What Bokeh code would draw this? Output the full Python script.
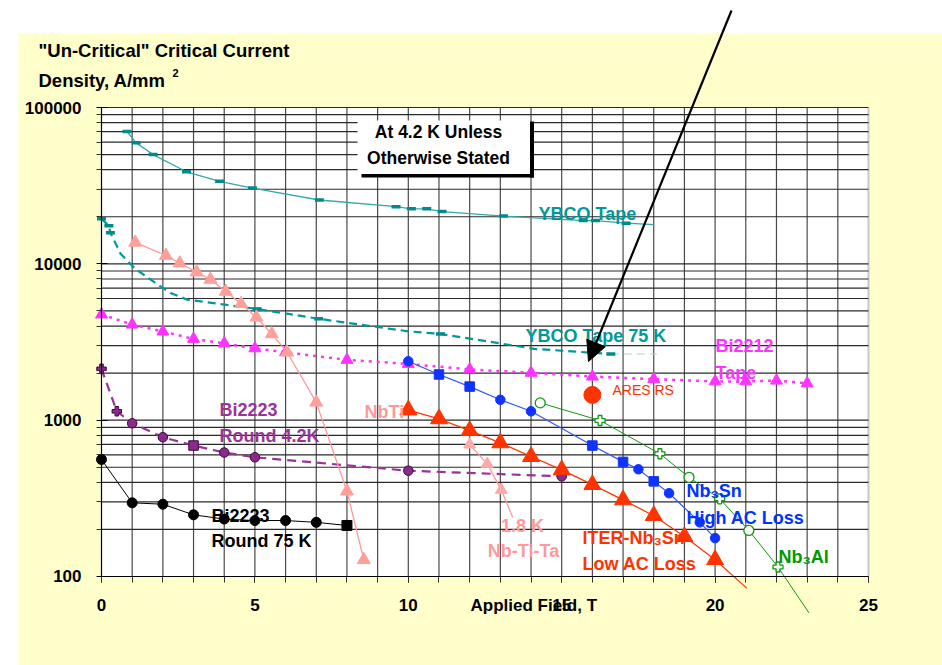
from bokeh.plotting import figure
from bokeh.models import Range1d, FixedTicker, PrintfTickFormatter, Arrow, NormalHead
from bokeh.core.properties import value
from bokeh.embed import file_html
from bokeh.resources import INLINE

# ---------------- data ----------------
x_major_ticks = [0, 5, 10, 15, 20, 25]
x_minor_ticks = list(range(26))
y_major_ticks = [100, 1000, 10000, 100000]
y_tick_labels = ["100", "1000", "10000", "100000"]
y_minor_ticks = [m * 10 ** e for e in (2, 3, 4) for m in range(2, 10)]

# YBCO Tape (4.2 K)
ybco_x = [0.83, 1.13, 1.68, 2.77, 3.85, 4.92, 7.1, 9.6, 10.1, 10.6, 11.1, 13.1, 15.7, 16.1, 17.1]
ybco_y = [70200, 59400, 50000, 38800, 33700, 30500, 25600, 23200, 22500, 22500, 21600, 20200, 18900, 18900, 18200]
ybco_line_x = ybco_x + [18.0]
ybco_line_y = ybco_y + [17800]

# YBCO Tape 75 K
ybco75_x = [0, 0.24, 0.29, 0.62, 1.1, 1.65, 2.25, 2.8, 5.07, 7.08, 10.0, 11.05, 14.1, 16.6, 18.1]
ybco75_y = [19400, 17500, 15800, 11600, 9300, 7800, 6500, 5900, 5150, 4450, 3700, 3560, 2860, 2650, 2650]
ybco75_mx = [0, 0.24, 0.29, 5.07, 7.08, 11.05, 16.6]
ybco75_my = [19400, 17500, 15800, 5150, 4450, 3560, 2650]

# Bi2212 Tape
bi2212_x = [0, 1, 2, 3, 4, 5, 6, 8, 10, 12, 14, 16, 18, 20, 21, 22, 23]
bi2212_y = [4740, 4090, 3690, 3310, 3100, 2880, 2720, 2430, 2290, 2110, 2010, 1900, 1830, 1770, 1770, 1790, 1720]

# Bi2223 Round 4.2K
bi2223_42_x = [0, 0.5, 1, 2, 3, 4, 5, 10, 15]
bi2223_42_y = [2130, 1140, 955, 778, 688, 621, 579, 475, 437]
bi2223_42_m = ["plus", "plus", "circle", "circle", "square", "circle", "circle", "circle", "circle"]

# Bi2223 Round 75 K
bi2223_75_x = [0, 1, 2, 3, 4, 5, 6, 7, 8]
bi2223_75_y = [560, 296, 290, 248, 233, 228, 228, 222, 212]
bi2223_75_m = ["circle"] * 8 + ["square"]

# NbTi 4.2 K
nbti_x = [1.1, 2.1, 2.55, 3.1, 3.55, 4.05, 4.55, 5.05, 5.55, 6.05, 7.0, 8.0, 8.55]
nbti_y = [13700, 11300, 10100, 8840, 7940, 6650, 5550, 4550, 3560, 2720, 1300, 351, 128]

# Nb-Ti-Ta 1.8 K
nbtita_x = [12.0, 12.57, 13.03]
nbtita_y = [698, 525, 358]
nbtita_line_x = nbtita_x + [13.4]
nbtita_line_y = nbtita_y + [240]

# Nb3Sn High AC Loss
nb3sn_x = [10, 11, 12, 13, 14, 16, 17, 17.5, 18, 18.5, 19.5, 20]
nb3sn_y = [2380, 1960, 1640, 1350, 1140, 688, 541, 485, 406, 341, 222, 176]
nb3sn_m = ["circle", "square", "square", "circle", "circle", "square", "square",
           "circle", "square", "circle", "circle", "circle"]

# ITER-Nb3Sn Low AC Loss
iter_x = [10, 11, 12, 13, 14, 15, 16, 17, 18, 19, 20]
iter_y = [1160, 1020, 857, 716, 585, 481, 387, 309, 245, 180, 128]
iter_line_x = iter_x + [21.04]
iter_line_y = iter_y + [84]

# Nb3Al
nb3al_x = [14.3, 16.25, 18.2, 19.15, 20.15, 21.1, 22.05]
nb3al_y = [1290, 995, 610, 431, 314, 197, 115]
nb3al_m = ["circle", "plus", "plus", "circle", "plus", "circle", "plus"]
nb3al_line_x = nb3al_x + [23.06]
nb3al_line_y = nb3al_y + [58.5]

# ARES RS
ares_x = [16.0]
ares_y = [1450]

# ---------------- layout helpers (reference pixel -> data) ----------------
X0_PX, PX_PER_T = 101.0, 30.68
Y5_PX, PX_PER_DEC = 107.0, 156.333
OFF = 0
W, H = 942, 665


def fx(px):
    return (px - X0_PX) / PX_PER_T


def fy(py):
    return 10 ** (5 - (py - Y5_PX) / PX_PER_DEC)


FONT = value("Liberation Sans")

p = figure(width=W, height=H, title=None,
           x_range=Range1d(fx(OFF), fx(OFF + W)),
           y_range=Range1d(fy(OFF + H), fy(OFF)),
           y_axis_type="log", output_backend="svg", toolbar_location=None,
           min_border=0)
p.background_fill_color = "white"
p.border_fill_color = "white"
p.outline_line_color = None
p.xgrid.visible = False
p.ygrid.visible = False

# backgrounds
p.quad(left=[fx(18)], right=[fx(1000)], bottom=[fy(720)], top=[fy(33)],
       fill_color="#FFFFCC", line_color=None)
p.quad(left=[0], right=[25], bottom=[100], top=[100000], fill_color="white", line_color=None)

# grid lines
vx = [t for t in x_minor_ticks if 0 < t < 25]
p.segment(x0=vx, y0=[100] * len(vx), x1=vx, y1=[100000] * len(vx),
          line_color="#4a4a4a", line_width=1.2)
p.segment(x0=[25], y0=[100], x1=[25], y1=[100000], line_color="#c8c8c8", line_width=2)
hy = y_minor_ticks + y_major_ticks[1:]
p.segment(x0=[0] * len(hy), y0=hy, x1=[25] * len(hy), y1=hy,
          line_color="#2a2a2a", line_width=1.2)

# axes
p.xaxis.fixed_location = 100
p.yaxis.fixed_location = 0
p.xaxis.bounds = (0, 25)
p.yaxis.bounds = (100, 100000)
p.xaxis.ticker = FixedTicker(ticks=x_major_ticks, minor_ticks=x_minor_ticks)
p.yaxis.ticker = FixedTicker(ticks=y_major_ticks, minor_ticks=y_minor_ticks)
p.yaxis.formatter = PrintfTickFormatter(format="%d")
p.yaxis.major_label_overrides = {t: s for t, s in zip(y_major_ticks, y_tick_labels)}
for ax in (p.xaxis, p.yaxis):
    ax.axis_line_color = "black"
    ax.axis_line_width = 1.2
    ax.major_tick_line_color = "black"
    ax.minor_tick_line_color = "#333333"
    ax.major_label_text_font = "Liberation Sans"
    ax.major_label_text_font_style = "bold"
    ax.major_label_text_font_size = "17px"
    ax.major_label_text_color = "black"
p.xaxis.major_tick_in = 0
p.xaxis.major_tick_out = 6
p.xaxis.minor_tick_in = 0
p.xaxis.minor_tick_out = 6
p.xaxis.major_label_standoff = 17
p.yaxis.major_tick_in = 6
p.yaxis.major_tick_out = 5
p.yaxis.minor_tick_in = 0
p.yaxis.minor_tick_out = 5
p.yaxis.major_label_standoff = 15

# ---------------- series ----------------
# YBCO tape 4.2 K
p.line(ybco_line_x, ybco_line_y, line_color="#33A8A8", line_width=1.3)
p.rect(ybco_x, ybco_y, width=9, height=3.5, width_units="screen", height_units="screen",
       fill_color="#008B8B", line_color=None)

# YBCO tape 75 K
p.line(ybco75_x[:-1], ybco75_y[:-1], line_color="#009999", line_width=2.2, line_dash="8 5")
p.line(ybco75_x[-2:], ybco75_y[-2:], line_color="#9AD8D8", line_width=1, line_dash="8 5")
p.rect(ybco75_mx, ybco75_my, width=9, height=3.5, width_units="screen", height_units="screen",
       fill_color="#008B8B", line_color=None)

# Bi2212 tape
p.line(bi2212_x, bi2212_y, line_color="#FF33FF", line_width=2.5, line_dash="3 5")
p.scatter(bi2212_x, bi2212_y, marker="triangle", size=12, fill_color="#FF33FF", line_color="#FF33FF")

# Bi2223 4.2K
p.line(bi2223_42_x, bi2223_42_y, line_color="#993399", line_width=2.2, line_dash="9 6")
p.scatter(bi2223_42_x, bi2223_42_y, marker=bi2223_42_m, size=9.5, fill_color="#8B2A8B",
          line_color="#3a0a3a", line_width=1)

# Bi2223 75 K
p.line(bi2223_75_x, bi2223_75_y, line_color="black", line_width=1)
p.scatter(bi2223_75_x, bi2223_75_y, marker=bi2223_75_m, size=10, fill_color="black", line_color="black")

# NbTi 4.2 K
p.line(nbti_x, nbti_y, line_color="#FF9999", line_width=1.3)
p.scatter(nbti_x, nbti_y, marker="triangle", size=13, fill_color="#FF9F99", line_color="#FF9F99")

# Nb-Ti-Ta 1.8 K
p.line(nbtita_line_x, nbtita_line_y, line_color="#FF9999", line_width=1.3)
p.scatter(nbtita_x, nbtita_y, marker="triangle", size=12, fill_color="#FFA8A8", line_color="#FFA8A8")

# Nb3Al
p.line(nb3al_line_x, nb3al_line_y, line_color="#119911", line_width=1)
p.scatter(nb3al_x, nb3al_y, marker=nb3al_m, size=10, fill_color="white", line_color="#119911",
          line_width=1.3)

# Nb3Sn high AC loss
p.line(nb3sn_x, nb3sn_y, line_color="#3355FF", line_width=1.2)
p.scatter(nb3sn_x, nb3sn_y, marker=nb3sn_m, size=9.5, fill_color="#1034FF", line_color="#1034FF")

# ITER Nb3Sn
p.line(iter_line_x, iter_line_y, line_color="#FF3300", line_width=1.2)
p.scatter(iter_x, iter_y, marker="triangle", size=17, fill_color="#FF3300", line_color="#FF3300")

# ARES RS
p.scatter(ares_x, ares_y, marker="circle", size=17, fill_color="#FF3300", line_color="#FF3300")

# ---------------- annotation box ----------------
p.quad(left=[fx(357)], right=[fx(529.5)], bottom=[fy(174)], top=[fy(120)],
       fill_color="white", line_color=None)
p.quad(left=[fx(529.5)], right=[fx(533.5)], bottom=[fy(177)], top=[fy(121)],
       fill_color="black", line_color=None)
p.quad(left=[fx(361)], right=[fx(533.5)], bottom=[fy(177)], top=[fy(173.5)],
       fill_color="black", line_color=None)


def label(px, py, txt, color, size="18px", style="bold", align="left"):
    p.text(x=[fx(px)], y=[fy(py)], text=[txt], text_color=color, text_font=FONT,
           text_font_size=size, text_font_style=style, text_align=align,
           text_baseline="middle")


label(438, 131, "At 4.2 K Unless", "black", size="17.5px", align="center")
label(438, 157, "Otherwise Stated", "black", size="17.5px", align="center")

# titles
label(38, 50, "\"Un-Critical\" Critical Current", "black", size="18.5px")
label(38, 80, "Density, A/mm", "black", size="18.5px")
label(172, 72, "2", "black", size="11px")
label(470, 605, "Applied Field, T", "black", size="17px")

# series labels
label(538, 213, "YBCO Tape", "#009999")
label(525, 335, "YBCO Tape 75 K", "#009999")
label(715, 345, "Bi2212", "#FF33FF")
label(715, 372, "Tape", "#FF33FF")
label(612, 389, "ARES RS", "#FF3300", size="14px", style="normal")
label(219, 409, "Bi2223", "#993399")
label(219, 435, "Round 4.2K", "#993399")
label(211, 515, "Bi2223", "black")
label(211, 540, "Round 75 K", "black")
label(364, 411, "NbTi", "#FF9999")
label(522, 525, "1.8 K", "#FF9999", align="center")
label(523, 550, "Nb-Ti-Ta", "#FF9999", align="center")
label(582, 537, "ITER-Nb\u2083Sn", "#FF3300")
label(582, 563, "Low AC Loss", "#FF3300")
label(686, 490, "Nb\u2083Sn", "#0033FF")
label(686, 517, "High AC Loss", "#0033FF")
label(778, 556, "Nb\u2083Al", "#009900")

# arrow
p.add_layout(Arrow(end=NormalHead(size=20, fill_color="black", line_color="black"),
                   x_start=fx(731), y_start=fy(10), x_end=fx(588), y_end=fy(361),
                   line_color="black", line_width=2.2))

open("out.html", "w").write(file_html(p, INLINE))
